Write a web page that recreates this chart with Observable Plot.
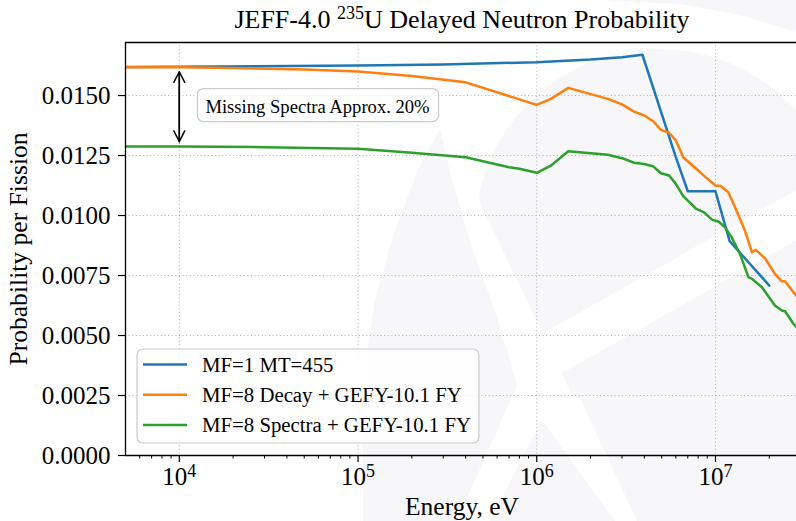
<!DOCTYPE html>
<html>
<head>
<meta charset="utf-8">
<script src="https://cdn.jsdelivr.net/npm/d3@7"></script>
<script src="https://cdn.jsdelivr.net/npm/@observablehq/plot@0.6"></script>
<style>
  html, body { margin: 0; padding: 0; background: #ffffff; }
  #chart { width: 796px; height: 521px; overflow: hidden; }
</style>
</head>
<body>
<div id="chart"></div>
<script>
// ---------------- data ----------------
const seriesNames = ["MF=1 MT=455", "MF=8 Decay + GEFY-10.1 FY", "MF=8 Spectra + GEFY-10.1 FY"];
const seriesColors = ["#1f77b4", "#ff7f0e", "#2ca02c"];

const blueE = [5e3, 1e4, 1e5, 3e5, 1e6, 2e6, 3e6, 3.9e6, 6e6, 7e6, 1e7, 1.2e7, 2e7];
const blueV = [0.01619, 0.01620, 0.01625, 0.01629, 0.01639, 0.01650, 0.01660, 0.01670, 0.01243, 0.01101, 0.01101, 0.00893, 0.00708];

const orangeE = [5e3, 1e4, 2e4, 5e4, 1e5, 2e5, 4e5, 1e6, 1.2e6, 1.5e6, 2.5e6, 3e6, 3.5e6, 4e6, 4.5e6, 4.95e6, 5.5e6, 6e6, 6.6e6, 7.8e6, 8.8e6, 1e7, 1.07e7, 1.18e7, 1.31e7, 1.46e7, 1.6e7, 1.68e7, 1.9e7, 2.15e7, 2.35e7, 2.45e7, 2.73e7, 3e7];
const orangeV = [0.01618, 0.01618, 0.01615, 0.01608, 0.01600, 0.01581, 0.01555, 0.01461, 0.01486, 0.01532, 0.01486, 0.01463, 0.01433, 0.01417, 0.01392, 0.01357, 0.01345, 0.01313, 0.01243, 0.01195, 0.01160, 0.01125, 0.01123, 0.01097, 0.01021, 0.00938, 0.00847, 0.00857, 0.00820, 0.00757, 0.00726, 0.00726, 0.00680, 0.00645];

const greenE = [5e3, 1e4, 3e4, 1e5, 2e5, 4e5, 7e5, 8e5, 1e6, 1.2e6, 1.5e6, 2.5e6, 3e6, 3.5e6, 4e6, 4.5e6, 4.95e6, 5.5e6, 6e6, 6.6e6, 7.8e6, 8.6e6, 9.6e6, 1.04e7, 1.13e7, 1.23e7, 1.37e7, 1.53e7, 1.6e7, 1.82e7, 2.15e7, 2.35e7, 2.45e7, 2.73e7, 3e7];
const greenV = [0.012875, 0.012875, 0.01285, 0.01278, 0.01262, 0.01243, 0.01201, 0.01195, 0.01178, 0.01208, 0.01268, 0.01253, 0.01239, 0.01220, 0.01215, 0.01204, 0.01176, 0.01167, 0.01132, 0.01081, 0.01028, 0.01014, 0.00982, 0.00975, 0.00951, 0.00910, 0.00840, 0.00743, 0.00736, 0.00701, 0.00625, 0.00604, 0.00601, 0.00549, 0.00515];

const yTicks = [0, 0.0025, 0.005, 0.0075, 0.01, 0.0125, 0.015];
const xMajorTicks = [1e4, 1e5, 1e6, 1e7];
const xMinorTicks = [6e3, 7e3, 8e3, 9e3, 2e4, 3e4, 4e4, 5e4, 6e4, 7e4, 8e4, 9e4, 2e5, 3e5, 4e5, 5e5, 6e5, 7e5, 8e5, 9e5, 2e6, 3e6, 4e6, 5e6, 6e6, 7e6, 8e6, 9e6, 2e7];

const titleMain = "JEFF-4.0 ";
const titleSup = "235";
const titleRest = "U Delayed Neutron Probability";
const xLabel = "Energy, eV";
const yLabel = "Probability per Fission";

const annotText = "Missing Spectra Approx. 20%";
const annotE = 1.4e4, annotV = 0.01454;
const arrowE = 1e4, arrowTop = 0.0162, arrowBottom = 0.01287;

// ---------------- build ----------------
const rows = [];
[[blueE, blueV], [orangeE, orangeV], [greenE, greenV]].forEach(([E, V], i) => {
  E.forEach((e, j) => rows.push({s: seriesNames[i], E: e, v: V[j]}));
});

const W = 796, H = 521, mL = 125, mR = 0, mT = 42, mB = 66;
const xDomain = [5000, 2.84e7];
const yDomain = [0, 0.01721];
const FONT = "'Liberation Serif', 'Times New Roman', Times, serif";
const LW = 2.5;

const svg = Plot.plot({
  width: W, height: H,
  marginLeft: mL, marginRight: mR, marginTop: mT, marginBottom: mB,
  style: {fontFamily: FONT, background: "transparent", overflow: "visible", color: "#000"},
  x: {type: "log", domain: xDomain},
  y: {domain: yDomain},
  color: {domain: seriesNames, range: seriesColors},
  marks: [
    Plot.gridX(xMajorTicks, {stroke: "#b0b0b0", strokeOpacity: 1, strokeWidth: 1, strokeDasharray: "1,2.6"}),
    Plot.gridY(yTicks, {stroke: "#b0b0b0", strokeOpacity: 1, strokeWidth: 1, strokeDasharray: "1,2.6"}),
    Plot.line(rows, {x: "E", y: "v", z: "s", stroke: "s", strokeWidth: LW, clip: true}),
    Plot.arrow([{x: arrowE, y1: arrowBottom, y2: arrowTop}, {x: arrowE, y1: arrowTop, y2: arrowBottom}], {
      x1: "x", x2: "x", y1: "y1", y2: "y2", stroke: "#000", strokeWidth: 1.5,
      insetStart: 5, insetEnd: 5, headLength: 12, headAngle: 54
    }),
    Plot.text([annotText], {x: () => annotE, y: () => annotV, text: d => d, textAnchor: "start",
      lineAnchor: "middle", fontSize: 18.6, fill: "#000"}),
    Plot.axisY(yTicks, {tickSize: 7, tickPadding: 8, fontSize: 25, tickFormat: d => d.toFixed(4), label: null, strokeWidth: 1.2}),
    Plot.axisX(xMajorTicks, {tickSize: 7, tickPadding: 5, fontSize: 25, tickFormat: d => "10^" + Math.round(Math.log10(d)), label: null, strokeWidth: 1.2}),
    Plot.axisX(xMinorTicks, {tickSize: 3.5, tickFormat: () => "", label: null, strokeWidth: 1}),
    Plot.ruleY([yDomain[0]], {stroke: "#000", strokeWidth: 1.3}),
    Plot.ruleY([yDomain[1]], {stroke: "#000", strokeWidth: 1.3}),
    Plot.ruleX([xDomain[0]], {stroke: "#000", strokeWidth: 1.3})
  ]
});
document.getElementById("chart").appendChild(svg);

const sel = d3.select(svg);
const ns = "http://www.w3.org/2000/svg";

// watermark (faint logo in the background; decoration only)
const WM = "#f7f7f9";
const wm = sel.insert("g", ":first-child").attr("aria-label", "watermark");
const poly = pts => "M" + pts.map(p => p.join(",")).join("L") + "Z";
wm.append("circle").attr("cx", 659).attr("cy", 233).attr("r", 184).attr("fill", WM);
wm.append("path").attr("d", poly([[573,383],[713,250],[796,215],[796,521],[637,521]])).attr("fill", WM);
function strip(x0, y0, x1, y1, w) {
  wm.append("line").attr("x1", x0).attr("y1", y0).attr("x2", x1).attr("y2", y1)
    .attr("stroke", "#ffffff").attr("stroke-width", w);
}
strip(430, 150, 640, 590, 45);
strip(440, 417, 830, 196, 44);
wm.append("path").attr("d", poly([[440,129],[418,170],[395,230],[375,300],[366,360],[363,430],[363,521],[457,521],[517,385],[498,320],[470,242],[452,180]])).attr("fill", WM);
wm.append("path").attr("d", poly([[542,420],[490,521],[615,521]])).attr("fill", WM);
wm.append("path").attr("d", poly([[600,0],[796,0],[796,32],[740,15],[680,4]])).attr("fill", WM);

// superscript tick labels
sel.selectAll("text").each(function() {
  const t = this.textContent;
  if (t.startsWith("10^")) {
    const exp = t.slice(3);
    const el = d3.select(this);
    el.text(null);
    el.append("tspan").text("10");
    el.append("tspan").attr("font-size", 18).attr("dy", -8).text(exp);
  }
});

// annotation box
sel.selectAll("text").each(function() {
  if (this.textContent === annotText) {
    const bb = this.getBBox();
    const p = this.parentNode;
    const r = document.createElementNS(ns, "rect");
    r.setAttribute("x", bb.x - 8);
    r.setAttribute("y", bb.y - 7);
    r.setAttribute("width", bb.width + 17);
    r.setAttribute("height", bb.height + 12);
    r.setAttribute("rx", 6);
    r.setAttribute("fill", "#ffffff");
    r.setAttribute("fill-opacity", 0.8);
    r.setAttribute("stroke", "#cccccc");
    r.setAttribute("stroke-width", 1.2);
    const tr = this.getAttribute("transform");
    if (tr) r.setAttribute("transform", tr);
    p.insertBefore(r, this);
  }
});

// title
const title = sel.append("text").attr("x", 462).attr("y", 28).attr("text-anchor", "middle")
  .attr("font-family", FONT).attr("font-size", 26).attr("fill", "#000");
title.append("tspan").text(titleMain);
title.append("tspan").attr("font-size", 18).attr("dy", -9).text(titleSup);
title.append("tspan").attr("dy", 9).text(titleRest);

// axis labels
sel.append("text").attr("x", 462).attr("y", 515).attr("text-anchor", "middle")
  .attr("font-family", FONT).attr("font-size", 25.5).attr("fill", "#000").text(xLabel);
sel.append("text").attr("transform", "translate(27,249) rotate(-90)").attr("text-anchor", "middle")
  .attr("font-family", FONT).attr("font-size", 25.6).attr("fill", "#000").text(yLabel);

// legend
const lg = sel.append("g").attr("aria-label", "legend");
const lgX = 137, lgY = 349, rowH = 30.2;
const box = lg.append("rect").attr("x", lgX).attr("y", lgY).attr("height", 94).attr("rx", 6)
  .attr("fill", "#ffffff").attr("fill-opacity", 0.8).attr("stroke", "#cccccc").attr("stroke-width", 1.2);
let maxRight = 0;
seriesNames.forEach((name, i) => {
  const yy = 364.5 + i * rowH;
  lg.append("line").attr("x1", 143).attr("x2", 187).attr("y1", yy).attr("y2", yy)
    .attr("stroke", seriesColors[i]).attr("stroke-width", LW);
  const t = lg.append("text").attr("x", 202).attr("y", yy + 7.2).attr("text-anchor", "start")
    .attr("font-family", FONT).attr("font-size", 20.8).attr("fill", "#000").text(name);
  const bb = t.node().getBBox();
  maxRight = Math.max(maxRight, bb.x + bb.width);
});
box.attr("width", maxRight + 8 - lgX);
</script>
</body>
</html>
